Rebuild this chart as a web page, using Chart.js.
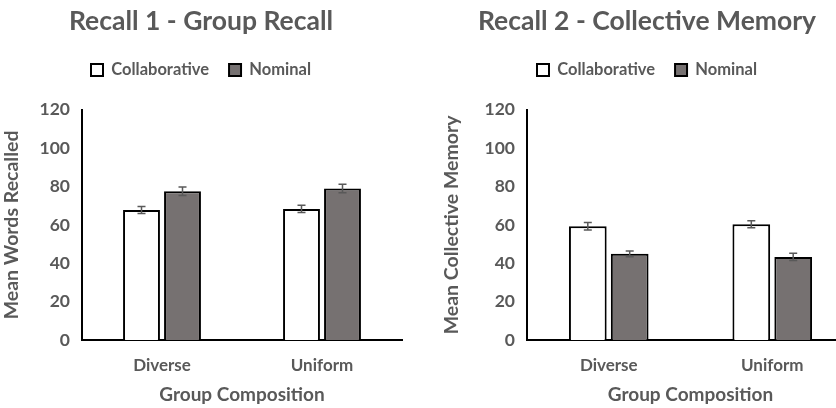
<!DOCTYPE html>
<html>
<head>
<meta charset="utf-8">
<script src="https://cdn.jsdelivr.net/npm/chart.js@4/dist/chart.umd.min.js"></script>
<style>
  body { margin: 0; background: #fff; overflow: hidden; width: 836px; height: 408px; position: relative; }
  .box { position: absolute; top: 0; height: 408px; }
</style>
</head>
<body>
<div class="box" style="left:0;width:404px"><canvas id="chart1"></canvas></div>
<div class="box" style="left:440px;width:416px"><canvas id="chart2"></canvas></div>
<script>
// 데이터
const groups = ['Diverse', 'Uniform'];
const seriesNames = ['Collaborative', 'Nominal'];

const recall1Collab = [67.8, 68.3];
const recall1Nominal = [77.5, 79.0];
const recall1CollabErr = [1.8, 1.9];
const recall1NominalErr = [2.2, 2.2];

const recall2Collab = [59.3, 60.3];
const recall2Nominal = [44.9, 43.3];
const recall2CollabErr = [2.0, 1.8];
const recall2NominalErr = [1.5, 1.9];

const yTicks = [0, 20, 40, 60, 80, 100, 120];

const TEXT = '#595959';
const FONT = 'Lato, "Open Sans", sans-serif';

// 에러바 그리기 플러그인
const errorBars = {
    id: 'errorBars',
    afterDatasetsDraw(chart) {
        const ctx = chart.ctx;
        const y = chart.scales.y;
        ctx.save();
        ctx.strokeStyle = '#595959';
        ctx.lineWidth = 1.5;
        chart.data.datasets.forEach((ds, i) => {
            const meta = chart.getDatasetMeta(i);
            meta.data.forEach((bar, j) => {
                const v = ds.data[j], e = ds.errors[j];
                const top = y.getPixelForValue(v + e);
                const bot = y.getPixelForValue(v - e);
                ctx.beginPath();
                ctx.moveTo(bar.x, top); ctx.lineTo(bar.x, bot);
                ctx.moveTo(bar.x - 4, top); ctx.lineTo(bar.x + 4, top);
                ctx.moveTo(bar.x - 4, bot); ctx.lineTo(bar.x + 4, bot);
                ctx.stroke();
            });
        });
        ctx.restore();
    }
};

// 범례와 그래프 사이 빈 공간
const legendGap = {
    id: 'legendGap',
    beforeInit(chart) {
        Chart.layouts.addBox(chart, {
            position: 'top', weight: 900, fullSize: true, options: {},
            width: 0, height: 0,
            isHorizontal() { return true; },
            update(maxWidth) { this.width = maxWidth; this.height = 21.5; },
            draw() {}
        });
    }
};

function makeChart(id, title, yTitle, collab, nominal, collabErr, nominalErr, axisWidth) {
    const ctx = document.getElementById(id).getContext('2d');
    return new Chart(ctx, {
        type: 'bar',
        data: {
            labels: groups,
            datasets: [{
                label: seriesNames[0],
                data: collab,
                errors: collabErr,
                backgroundColor: '#ffffff',
                borderColor: '#000000',
                borderWidth: 2,
                categoryPercentage: 0.5125,
                barPercentage: 0.9
            }, {
                label: seriesNames[1],
                data: nominal,
                errors: nominalErr,
                backgroundColor: '#767171',
                borderColor: '#000000',
                borderWidth: 2,
                categoryPercentage: 0.5125,
                barPercentage: 0.9
            }]
        },
        options: {
            responsive: true,
            maintainAspectRatio: false,
            animation: false,
            layout: { padding: { top: 0, right: 2, bottom: 0, left: 0 } },
            plugins: {
                title: {
                    display: true,
                    text: title,
                    color: TEXT,
                    font: { family: FONT, size: 26.5, weight: 'bold' },
                    padding: { top: 6, bottom: 4 }
                },
                legend: {
                    labels: {
                        color: TEXT,
                        font: { family: FONT, size: 16.5, weight: 'bold' },
                        boxWidth: 12,
                        boxHeight: 12,
                        padding: 20
                    }
                },
                tooltip: { enabled: false }
            },
            scales: {
                x: {
                    grid: { display: false, drawTicks: false },
                    border: { color: '#000', width: 2 },
                    ticks: { color: TEXT, font: { family: FONT, size: 17, weight: 'bold' }, padding: 15 },
                    title: { display: true, text: 'Group Composition', color: TEXT,
                             font: { family: FONT, size: 19, weight: 'bold' }, padding: { top: 6, bottom: 2 } },
                    afterFit: s => { s.height = 68; }
                },
                y: {
                    min: 0, max: 120,
                    afterBuildTicks: s => { s.ticks = yTicks.map(v => ({ value: v })); },
                    grid: { display: false, drawOnChartArea: false, drawTicks: true, tickLength: 6, color: '#000', tickWidth: 1.5 },
                    border: { color: '#000', width: 2 },
                    ticks: { color: TEXT, font: { family: FONT, size: 17.5, weight: 'bold' }, padding: 6 },
                    title: { display: true, text: yTitle, color: TEXT,
                             font: { family: FONT, size: 19.5, weight: 'bold' }, padding: { top: 0, bottom: 8 } },
                    afterFit: s => { s.width = axisWidth; }
                }
            }
        },
        plugins: [errorBars, legendGap]
    });
}

makeChart('chart1', 'Recall 1 - Group Recall', 'Mean Words Recalled',
    recall1Collab, recall1Nominal, recall1CollabErr, recall1NominalErr, 82);
makeChart('chart2', 'Recall 2 - Collective Memory', 'Mean Collective Memory',
    recall2Collab, recall2Nominal, recall2CollabErr, recall2NominalErr, 87);
</script>
</body>
</html>
